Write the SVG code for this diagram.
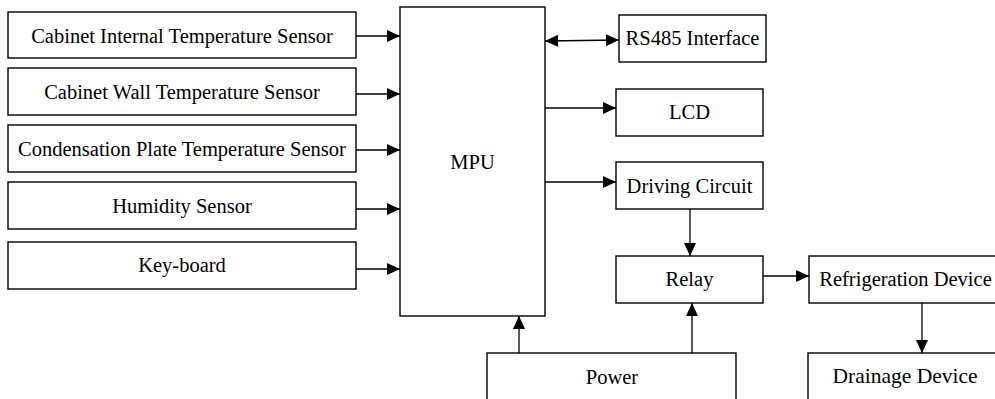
<svg xmlns="http://www.w3.org/2000/svg" width="995" height="399" viewBox="0 0 995 399">
<style>
.box{fill:#fff;stroke:#000;stroke-width:1.4}
text{font-family:'Liberation Serif','DejaVu Serif',serif;font-size:20.5px;fill:#000;text-anchor:middle}
.c{fill:none;stroke:#000;stroke-width:1.3}
</style>
<defs>
<marker id="ah" markerUnits="userSpaceOnUse" markerWidth="13" markerHeight="12" refX="13" refY="6" orient="auto-start-reverse">
<path d="M0,0 L13,6 L0,12 Z" fill="#000"/>
</marker>
</defs>
<rect width="995" height="399" fill="#fff"/>
<g id="n-cabinet-internal"><rect class="box" x="8" y="12" width="348" height="46"/><text x="182" y="42.5">Cabinet Internal Temperature Sensor</text></g>
<g id="n-cabinet-wall"><rect class="box" x="8" y="68" width="348" height="47"/><text x="182" y="98.5">Cabinet Wall Temperature Sensor</text></g>
<g id="n-condensation"><rect class="box" x="8" y="125" width="348" height="47"/><text x="182" y="155.5">Condensation Plate Temperature Sensor</text></g>
<g id="n-humidity"><rect class="box" x="8" y="182" width="348" height="47"/><text x="182" y="212.5">Humidity Sensor</text></g>
<g id="n-keyboard"><rect class="box" x="8" y="242" width="348" height="47"/><text x="182" y="272">Key-board</text></g>
<g id="n-mpu"><rect class="box" x="400" y="7" width="145" height="309"/><text x="472.5" y="169">MPU</text></g>
<g id="n-rs485"><rect class="box" x="619" y="15" width="147" height="47"/><text x="692.5" y="45">RS485 Interface</text></g>
<g id="n-lcd"><rect class="box" x="616" y="89" width="147" height="47"/><text x="689.5" y="119">LCD</text></g>
<g id="n-driving"><rect class="box" x="616" y="162" width="147" height="47"/><text x="689.5" y="192.5">Driving Circuit</text></g>
<g id="n-relay"><rect class="box" x="616" y="256" width="147" height="47"/><text x="689.5" y="285.5">Relay</text></g>
<g id="n-refrigeration"><rect class="box" x="809" y="256" width="195" height="47"/><text x="905.5" y="285.5">Refrigeration Device</text></g>
<g id="n-power"><rect class="box" x="487" y="353" width="249" height="60"/><text x="612" y="383.5">Power</text></g>
<g id="n-drainage"><rect class="box" x="808" y="353" width="200" height="60"/><text x="905" y="383" style="font-size:21.5px">Drainage Device</text></g>
<g id="connectors">
<line class="c" x1="356" y1="36" x2="400" y2="36" marker-end="url(#ah)"/>
<line class="c" x1="356" y1="94" x2="400" y2="94" marker-end="url(#ah)"/>
<line class="c" x1="356" y1="150" x2="400" y2="150" marker-end="url(#ah)"/>
<line class="c" x1="356" y1="209" x2="400" y2="209" marker-end="url(#ah)"/>
<line class="c" x1="356" y1="269" x2="400" y2="269" marker-end="url(#ah)"/>
<line class="c" x1="545" y1="41" x2="619" y2="40" marker-start="url(#ah)" marker-end="url(#ah)"/>
<line class="c" x1="545" y1="108" x2="616" y2="108" marker-end="url(#ah)"/>
<line class="c" x1="545" y1="182" x2="616" y2="182" marker-end="url(#ah)"/>
<line class="c" x1="690" y1="209" x2="690" y2="256" marker-end="url(#ah)"/>
<line class="c" x1="763" y1="276" x2="809" y2="276" marker-end="url(#ah)"/>
<line class="c" x1="922" y1="303" x2="922" y2="353" marker-end="url(#ah)"/>
<line class="c" x1="519" y1="353" x2="519" y2="316" marker-end="url(#ah)"/>
<line class="c" x1="692" y1="353" x2="692" y2="303" marker-end="url(#ah)"/>
</g>
</svg>
